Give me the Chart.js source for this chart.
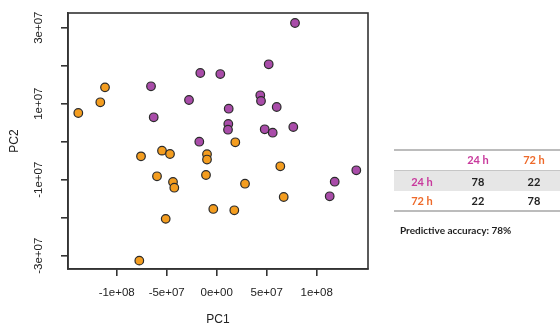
<!DOCTYPE html>
<html>
<head>
<meta charset="utf-8">
<script src="https://cdn.jsdelivr.net/npm/chart.js@4/dist/chart.umd.min.js"></script>
<style>
  html, body { margin: 0; padding: 0; background: #fff; }
  #wrap { position: relative; width: 560px; height: 328px; overflow: hidden; }
  #c { position: absolute; left: 0; top: 0; }
  .t { position: absolute; transform: translate(-50%, -50%); white-space: nowrap;
       font-family: Lato, "Open Sans", sans-serif; line-height: 1; }
  .rule { position: absolute; background: #bcbcbc; }
  .band { position: absolute; background: #e6e6e6; border-top: 1px solid #c6c6c6; }
  .hd { font-weight: 700; font-size: 11px; }
  .num { font-size: 11px; color: #222; font-weight: 700; }
  .cap { position: absolute; font-family: Lato, "Open Sans", sans-serif; font-size: 10px;
         color: #1e1e1e; white-space: nowrap; transform: translateY(-50%); font-weight: 700; }
</style>
</head>
<body>
<div id="wrap">
  <canvas id="c" width="560" height="328"></canvas>
  <div id="tbl"></div>
</div>
<script>
// PCA scores, 24 h samples
const pc1_24h = [-65.7e6, -63.0e6, -27.7e6, -16.4e6, 3.6e6, -17.4e6, 12.0e6, 11.6e6, 11.3e6, 43.6e6,
                 44.3e6, 52.0e6, 60.0e6, 48.0e6, 56.0e6, 76.6e6, 78.3e6, 118.0e6, 113.0e6, 139.6e6];
const pc2_24h = [14.58e6, 6.42e6, 10.97e6, 18.08e6, 17.8e6, 0.0e6, 8.68e6, 4.66e6, 3.16e6, 12.21e6,
                 10.71e6, 20.37e6, 9.13e6, 3.26e6, 2.37e6, 3.87e6, 31.24e6, -10.53e6, -14.37e6, -7.53e6];

// PCA scores, 72 h samples
const pc1_72h = [-138.4e6, -116.4e6, -111.7e6, -75.7e6, -54.7e6, -46.7e6, -59.7e6, -43.7e6, -42.4e6, -51.0e6,
                 -77.4e6, -9.7e6, -9.7e6, -10.7e6, 18.6e6, -3.4e6, 17.6e6, 28.3e6, 63.6e6, 67.0e6];
const pc2_72h = [7.55e6, 10.37e6, 14.3e6, -3.85e6, -2.36e6, -3.24e6, -9.11e6, -10.6e6, -12.1e6, -20.3e6,
                 -31.3e6, -3.3e6, -4.7e6, -8.76e6, -0.16e6, -17.7e6, -18.05e6, -11.05e6, -6.47e6, -14.55e6];

// Axis ticks
const xTicks = [-1e8, -5e7, 0, 5e7, 1e8];
const xTickLabels = ['-1e+08', '-5e+07', '0e+00', '5e+07', '1e+08'];
const yTicks = [-3e7, -2e7, -1e7, 0, 1e7, 2e7, 3e7];
const yTickLabels = ['-3e+07', '', '-1e+07', '', '1e+07', '', '3e+07'];

// Confusion matrix (rows: actual, columns: predicted)
const classes = ['24 h', '72 h'];
const classColors = ['#c8399c', '#ee6a2a'];
const matrix = [[78, 22], [22, 78]];
const accuracyText = 'Predictive accuracy: 78%';

const toPoints = (xs, ys) => xs.map((x, i) => ({ x: x, y: ys[i] }));

const AXIS = '#333';
const FONT = '"Liberation Sans", Arial, sans-serif';
const tickFont = { family: FONT, size: 11.5 };

const frame = {
  id: 'frame',
  afterDraw(chart) {
    const { ctx, chartArea: a, scales } = chart;
    ctx.save();
    ctx.strokeStyle = AXIS;
    ctx.lineWidth = 1.6;
    ctx.strokeRect(a.left, a.top, a.right - a.left, a.bottom - a.top);

    ctx.fillStyle = '#222';
    ctx.font = '11.5px ' + FONT;
    ctx.textAlign = 'center';
    ctx.textBaseline = 'middle';
    yTicks.forEach((v, i) => {
      if (!yTickLabels[i]) return;
      const y = scales.y.getPixelForValue(v);
      ctx.save();
      ctx.translate(39, y);
      ctx.rotate(-Math.PI / 2);
      ctx.fillText(yTickLabels[i], 0, 0);
      ctx.restore();
    });

    ctx.font = '12px ' + FONT;
    ctx.fillText('PC1', (a.left + a.right) / 2, 320);
    ctx.save();
    ctx.translate(15, (a.top + a.bottom) / 2);
    ctx.rotate(-Math.PI / 2);
    ctx.fillText('PC2', 0, 0);
    ctx.restore();
    ctx.restore();
  }
};

new Chart(document.getElementById('c'), {
  type: 'scatter',
  data: {
    datasets: [
      { label: '72 h', data: toPoints(pc1_72h, pc2_72h), backgroundColor: '#f49d1f',
        borderColor: '#2b2b2b', borderWidth: 1.2, pointRadius: 4.3 },
      { label: '24 h', data: toPoints(pc1_24h, pc2_24h), backgroundColor: '#a94ca9',
        borderColor: '#2b2b2b', borderWidth: 1.2, pointRadius: 4.3 }
    ]
  },
  options: {
    responsive: false,
    devicePixelRatio: 1,
    animation: false,
    layout: { padding: { left: 0, top: 13, right: 192, bottom: 0 } },
    plugins: { legend: { display: false }, tooltip: { enabled: false } },
    scales: {
      x: {
        type: 'linear', position: 'bottom', min: -148.7e6, max: 151.3e6,
        afterBuildTicks: s => { s.ticks = xTicks.map(v => ({ value: v })); },
        afterFit: s => { s.height = 59; },
        ticks: {
          autoSkip: false, maxRotation: 0, padding: 10, color: '#222', font: tickFont,
          callback: (v) => xTickLabels[xTicks.indexOf(v)]
        },
        grid: { drawOnChartArea: false, drawTicks: true, tickLength: 7, color: AXIS, lineWidth: 1.6 },
        border: { display: true, color: AXIS, width: 1.6 }
      },
      y: {
        type: 'linear', position: 'left', min: -33.5e6, max: 33.87e6,
        afterBuildTicks: s => { s.ticks = yTicks.map(v => ({ value: v })); },
        afterFit: s => { s.width = 68; },
        ticks: { autoSkip: false, padding: 0, font: tickFont, callback: () => '' },
        grid: { drawOnChartArea: false, drawTicks: true, tickLength: 7, color: AXIS, lineWidth: 1.6 },
        border: { display: true, color: AXIS, width: 1.6 }
      }
    }
  },
  plugins: [frame]
});

// Confusion matrix table beside the plot
(function buildTable() {
  const host = document.getElementById('tbl');
  const add = (html) => host.insertAdjacentHTML('beforeend', html);
  const colX = [478, 534];
  const rowLabelX = 422;
  const headerY = 159;
  const rowY = [181, 200];

  add('<div class="rule" style="left:394px;top:149px;width:166px;height:2px"></div>');
  add('<div class="band" style="left:394px;top:170px;width:166px;height:20px"></div>');
  add('<div class="rule" style="left:394px;top:210px;width:166px;height:2px"></div>');

  classes.forEach((c, j) => {
    add(`<span class="t hd" style="left:${colX[j]}px;top:${headerY}px;color:${classColors[j]}">${c}</span>`);
  });
  classes.forEach((c, i) => {
    add(`<span class="t hd" style="left:${rowLabelX}px;top:${rowY[i]}px;color:${classColors[i]}">${c}</span>`);
    matrix[i].forEach((v, j) => {
      add(`<span class="t num" style="left:${colX[j]}px;top:${rowY[i]}px">${v}</span>`);
    });
  });
  add(`<span class="cap" style="left:400px;top:230px">${accuracyText}</span>`);
})();
</script>
</body>
</html>
